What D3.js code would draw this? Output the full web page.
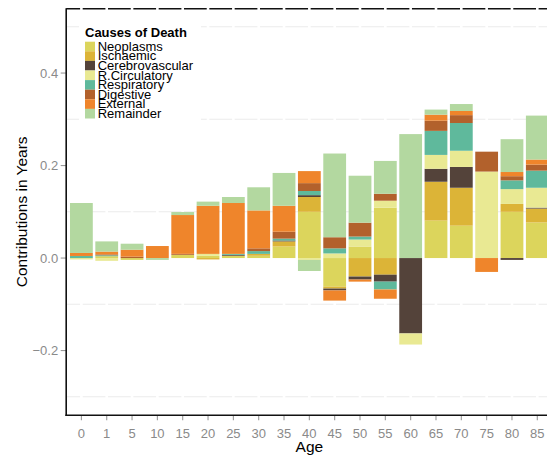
<!DOCTYPE html>
<html>
<head>
<meta charset="utf-8">
<script src="https://cdn.jsdelivr.net/npm/d3@7"></script>
<style>
  html, body { margin: 0; padding: 0; background: #fff; }
  svg { display: block; font-family: "Liberation Sans", Arial, Helvetica, sans-serif; }
</style>
</head>
<body>
<svg id="chart" width="547" height="457"></svg>
<script>
// Age groups on the x axis
const ages = ["0", "1", "5", "10", "15", "20", "25", "30", "35", "40", "45", "50", "55", "60", "65", "70", "75", "80", "85"];

// Cause-of-death categories (stack order, bottom to top)
const causes = ["Neoplasms", "Ischaemic", "Cerebrovascular", "R.Circulatory", "Respiratory", "Digestive", "External", "Remainder"];
const causeColors = ["#dcd55c", "#dcb437", "#54433a", "#e9e993", "#5fb99c", "#b2612c", "#ef852b", "#b3d8a0"];

// Contributions in years, one value per age group
const neoplasms       = [0, 0.004, -0.004, 0, 0.007, 0.005, 0.005, 0.005, 0.025, 0.100, -0.062, 0.025, 0.109, 0, 0.081, 0.070, 0, 0.100, 0.077];
const ischaemic       = [0, 0, 0, 0, 0, -0.003, 0, 0.004, 0.011, 0.032, -0.004, -0.040, -0.036, 0, 0.084, 0.082, 0, 0.017, 0.030];
const cerebrovascular = [0, 0, 0, 0, 0, 0, 0.002, 0, 0.002, 0.004, -0.004, -0.0065, -0.015, -0.163, 0.028, 0.045, 0, -0.004, 0.002];
const rCirculatory    = [-0.003, -0.006, 0, 0, 0, 0.004, 0, 0, 0, -0.004, 0.010, 0.015, 0.015, -0.024, 0.030, 0.035, 0.187, 0.032, 0.043];
const respiratory     = [0.0045, 0.002, 0, 0, 0, 0, 0.002, 0.006, 0.004, 0.009, 0.011, 0.0065, -0.017, 0, 0.052, 0.060, 0, 0.019, 0.037];
const digestive       = [0, 0.002, 0.003, 0, 0.002, 0, 0, 0.006, 0.015, 0.017, 0.024, 0.030, 0.015, 0, 0.022, 0.017, 0.043, 0.009, 0.013];
const external        = [0.0065, 0.006, 0.015, 0.026, 0.084, 0.104, 0.110, 0.082, 0.056, 0.026, -0.022, -0.0045, -0.020, 0, 0.013, 0.009, -0.030, 0.009, 0.011];
const remainder       = [0.108, 0.022, 0.013, -0.004, 0.0065, 0.009, 0.013, 0.050, 0.071, -0.024, 0.181, 0.1015, 0.071, 0.268, 0.011, 0.015, 0, 0.071, 0.095];

// Axis ticks
const yTicks = [-0.2, 0, 0.2, 0.4];
const yMinorGrid = [-0.3, -0.1, 0.1, 0.3, 0.5];

const seriesValues = [neoplasms, ischaemic, cerebrovascular, rCirculatory, respiratory, digestive, external, remainder];

// Build one row per age group for d3.stack
const rows = ages.map((a, i) => {
  const r = { age: a };
  causes.forEach((c, k) => { r[c] = seriesValues[k][i]; });
  return r;
});

const stacked = d3.stack()
  .keys(causes)
  .offset(d3.stackOffsetDiverging)(rows);

const svg = d3.select("#chart");

const panel = { left: 66.2, right: 552.5, top: 8.3, bottom: 415.3 };

const x = d3.scaleBand()
  .domain(ages)
  .range([panel.left, panel.right])
  .paddingInner(0.1)
  .paddingOuter(0.15)
  .align(0.5);

const y = d3.scaleLinear()
  .domain([-0.34, 0.54])
  .range([panel.bottom, panel.top]);

const color = d3.scaleOrdinal().domain(causes).range(causeColors);

// Panel top rule
svg.append("line")
  .attr("x1", panel.left).attr("x2", 547)
  .attr("y1", panel.top + 0.5).attr("y2", panel.top + 0.5)
  .attr("stroke", "#111").attr("stroke-width", 1.5);

// Minor horizontal grid
svg.append("g").selectAll("line")
  .data(yMinorGrid)
  .join("line")
  .attr("x1", panel.left).attr("x2", 547)
  .attr("y1", d => y(d)).attr("y2", d => y(d))
  .attr("stroke", "#ebebeb").attr("stroke-width", 1.1);

// Major vertical grid (white)
svg.append("g").selectAll("line")
  .data(ages)
  .join("line")
  .attr("x1", d => x(d) + x.bandwidth() / 2).attr("x2", d => x(d) + x.bandwidth() / 2)
  .attr("y1", panel.top - 1).attr("y2", panel.bottom - 1)
  .attr("stroke", "#fff").attr("stroke-width", 2.6);

// Stacked bars
svg.append("g").selectAll("g")
  .data(stacked)
  .join("g")
  .attr("fill", d => color(d.key))
  .selectAll("rect")
  .data(d => d.filter(p => p[1] !== p[0]))
  .join("rect")
  .attr("x", d => x(d.data.age))
  .attr("width", x.bandwidth())
  .attr("y", d => y(Math.max(d[0], d[1])))
  .attr("height", d => Math.abs(y(d[0]) - y(d[1])));

// Axes
const axisColor = "#999";
const labelColor = "#8a8a8a";

const yAxis = svg.append("g");
yAxis.selectAll("line.tick")
  .data(yTicks)
  .join("line")
  .attr("class", "tick")
  .attr("x1", panel.left - 5.5).attr("x2", panel.left)
  .attr("y1", d => y(d)).attr("y2", d => y(d))
  .attr("stroke", axisColor).attr("stroke-width", 1.1);
yAxis.selectAll("text")
  .data(yTicks)
  .join("text")
  .attr("x", panel.left - 8)
  .attr("y", d => y(d))
  .attr("dy", "0.35em")
  .attr("text-anchor", "end")
  .attr("font-size", 13)
  .attr("fill", labelColor)
  .text(d => d3.format(".1f")(d).replace("-", "\u2212"));

const xAxis = svg.append("g");
xAxis.selectAll("line")
  .data(ages)
  .join("line")
  .attr("x1", d => x(d) + x.bandwidth() / 2).attr("x2", d => x(d) + x.bandwidth() / 2)
  .attr("y1", panel.bottom).attr("y2", panel.bottom + 5)
  .attr("stroke", axisColor).attr("stroke-width", 1.1);
xAxis.selectAll("text")
  .data(ages)
  .join("text")
  .attr("x", d => x(d) + x.bandwidth() / 2)
  .attr("y", 438)
  .attr("text-anchor", "middle")
  .attr("font-size", 13)
  .attr("fill", labelColor)
  .text(d => d);

// Axis lines
svg.append("line")
  .attr("x1", panel.left).attr("x2", panel.left)
  .attr("y1", panel.top).attr("y2", panel.bottom + 0.8)
  .attr("stroke", "#111").attr("stroke-width", 1.6);
svg.append("line")
  .attr("x1", panel.left - 0.8).attr("x2", 547)
  .attr("y1", panel.bottom).attr("y2", panel.bottom)
  .attr("stroke", "#111").attr("stroke-width", 1.6);

// Axis titles
svg.append("text")
  .attr("x", (panel.left + panel.right) / 2)
  .attr("y", 451.5)
  .attr("text-anchor", "middle")
  .attr("font-size", 15.5)
  .attr("fill", "#000")
  .text("Age");

svg.append("text")
  .attr("transform", `translate(27,${(panel.top + panel.bottom) / 2}) rotate(-90)`)
  .attr("text-anchor", "middle")
  .attr("font-size", 15.5)
  .attr("fill", "#000")
  .text("Contributions in Years");

// Legend
const legend = svg.append("g");
legend.append("rect")
  .attr("x", 79).attr("y", 18)
  .attr("width", 122).attr("height", 106)
  .attr("fill", "#fff");
legend.append("text")
  .attr("x", 85).attr("y", 36.6)
  .attr("font-size", 13)
  .attr("font-weight", "bold")
  .attr("fill", "#000")
  .text("Causes of Death");

const keyH = 9.6, keyTop = 41.7;
const items = legend.selectAll("g.item")
  .data(causes)
  .join("g")
  .attr("class", "item")
  .attr("transform", (d, i) => `translate(85,${keyTop + i * keyH})`);
items.append("rect")
  .attr("width", 10).attr("height", keyH)
  .attr("fill", d => color(d));
items.append("text")
  .attr("x", 12.7)
  .attr("y", keyH / 2 + 4.2)
  .attr("font-size", 13)
  .attr("fill", "#000")
  .text(d => d);
</script>
</body>
</html>
